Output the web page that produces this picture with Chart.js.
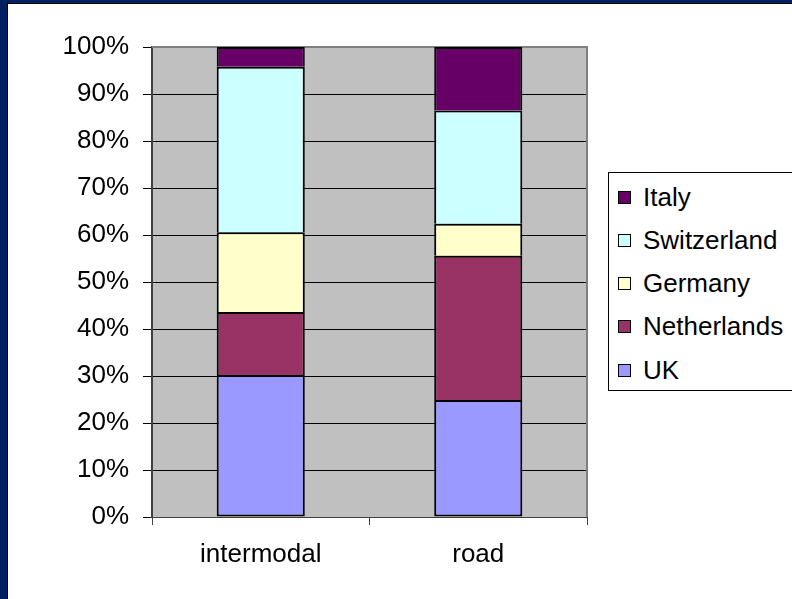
<!DOCTYPE html>
<html>
<head>
<meta charset="utf-8">
<script src="https://cdn.jsdelivr.net/npm/chart.js@4.4.0/dist/chart.umd.min.js"></script>
<style>
  html, body { margin: 0; padding: 0; background: #fff; overflow: hidden; }
  #wrap { position: relative; width: 792px; height: 599px; }
  #legend {
    position: absolute; left: 608px; top: 172px; width: 190px; height: 219px;
    border: 1px solid #000; background: #fff; box-sizing: border-box;
    font-family: "Liberation Sans", Arial, sans-serif; font-size: 26px; color: #000;
  }
  #legend .item { position: absolute; left: 9px; height: 30px; display: flex; align-items: center; }
  #legend .box { width: 11px; height: 11px; border: 1px solid #000; margin-right: 12px; }
</style>
</head>
<body>
<div id="wrap">
  <canvas id="chart" width="792" height="599"></canvas>
  <div id="legend"></div>
</div>
<script>
const categories = ['intermodal', 'road'];
const uk = [30.2, 24.9];
const netherlands = [13.4, 30.7];
const germany = [17.0, 6.8];
const switzerland = [35.2, 24.1];
const italy = [4.2, 13.5];
const yTicks = [0, 10, 20, 30, 40, 50, 60, 70, 80, 90, 100];

const FONT = '"Liberation Sans", Arial, sans-serif';

// white page, navy frame and grey plot area
const backdrop = {
  id: 'backdrop',
  beforeDraw(chart) {
    const { ctx, chartArea: a } = chart;
    ctx.save();
    ctx.fillStyle = '#fff';
    ctx.fillRect(0, 0, chart.width, chart.height);
    ctx.fillStyle = '#002060';
    ctx.fillRect(0, 0, chart.width, 3);
    ctx.fillRect(0, 0, 7, chart.height);
    ctx.fillStyle = '#000';
    ctx.fillRect(7, 3, chart.width, 1);
    ctx.fillRect(7, 3, 1, chart.height);
    ctx.fillStyle = '#C0C0C0';
    ctx.fillRect(a.left, a.top, a.right - a.left, a.bottom - a.top);
    ctx.restore();
  },
  beforeDatasetsDraw(chart) {
    const { ctx, chartArea: a } = chart;
    ctx.save();
    ctx.strokeStyle = '#808080';
    ctx.lineWidth = 2;
    ctx.beginPath();
    ctx.moveTo(a.left, a.top);
    ctx.lineTo(a.right, a.top);
    ctx.lineTo(a.right, a.bottom);
    ctx.stroke();
    ctx.restore();
  }
};

const chart = new Chart(document.getElementById('chart'), {
  type: 'bar',
  data: {
    labels: categories,
    datasets: [
      { label: 'UK', data: uk, backgroundColor: '#9999FF', borderSkipped: false },
      { label: 'Netherlands', data: netherlands, backgroundColor: '#993366' },
      { label: 'Germany', data: germany, backgroundColor: '#FFFFCC' },
      { label: 'Switzerland', data: switzerland, backgroundColor: '#CCFFFF' },
      { label: 'Italy', data: italy, backgroundColor: '#660066' }
    ]
  },
  options: {
    responsive: false,
    animation: false,
    layout: { padding: { top: 47, right: 205, left: 0, bottom: 0 } },
    datasets: {
      bar: {
        borderColor: '#000',
        borderWidth: 2,
        barPercentage: 0.405,
        categoryPercentage: 1
      }
    },
    plugins: {
      legend: { display: false },
      tooltip: { enabled: false }
    },
    scales: {
      x: {
        stacked: true,
        afterFit(scale) { scale.height = 82; },
        grid: { offset: true, drawOnChartArea: false, tickLength: 8, color: '#404040' },
        border: { display: true, color: '#404040', width: 1 },
        ticks: { color: '#000', padding: 14, font: { family: FONT, size: 26 } }
      },
      y: {
        stacked: true,
        min: 0,
        max: 100,
        afterFit(scale) { scale.width = 152; },
        afterBuildTicks(scale) { scale.ticks = yTicks.map(v => ({ value: v })); },
        grid: { color: '#000', lineWidth: 1, tickLength: 9, tickColor: '#000' },
        border: { display: true, color: '#404040', width: 2 },
        ticks: {
          color: '#000', padding: 14,
          font: { family: FONT, size: 26 },
          callback: v => v + '%'
        }
      }
    }
  },
  plugins: [backdrop]
});

// legend (top to bottom in reverse stacking order)
const legendEl = document.getElementById('legend');
chart.data.datasets.slice().reverse().forEach((ds, i) => {
  const item = document.createElement('div');
  item.className = 'item';
  item.style.top = (9 + i * 43.3) + 'px';
  const box = document.createElement('span');
  box.className = 'box';
  box.style.background = ds.backgroundColor;
  const txt = document.createElement('span');
  txt.textContent = ds.label;
  item.appendChild(box);
  item.appendChild(txt);
  legendEl.appendChild(item);
});
</script>
</body>
</html>
